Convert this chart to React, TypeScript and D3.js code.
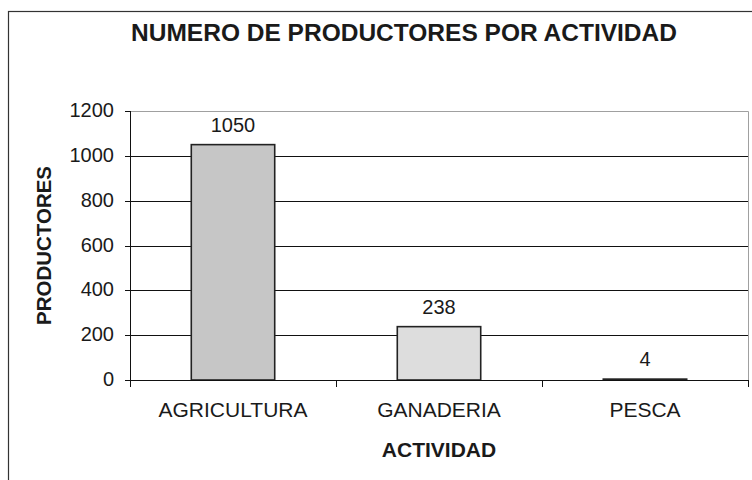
import * as d3 from "d3";
import { useEffect, useRef } from "react";

const categories = ["AGRICULTURA", "GANADERIA", "PESCA"];
const values = [1050, 238, 4];
const barColors = ["#c6c6c6", "#dddddd", "#555555"];
const yTicks = [0, 200, 400, 600, 800, 1000, 1200];

const title = "NUMERO DE PRODUCTORES POR ACTIVIDAD";
const xTitle = "ACTIVIDAD";
const yTitle = "PRODUCTORES";

const App = () => {
  const svgRef = useRef<SVGSVGElement>(null);
  const width = 752;
  const height = 480;

  useEffect(() => {
    const margin = { top: 111, left: 130, right: 4, bottom: 100 };
    const font = "'Liberation Sans', Arial, sans-serif";
    const svg = d3.select(svgRef.current).attr("width", width).attr("height", height);
    svg.selectAll("*").remove();

    svg.append("rect").attr("width", width).attr("height", height).attr("fill", "#ffffff");

    // outer chart frame (runs off the right/bottom edges)
    svg
      .append("rect")
      .attr("x", 8.5)
      .attr("y", 11.5)
      .attr("width", 800)
      .attr("height", 600)
      .attr("fill", "none")
      .attr("stroke", "#333")
      .attr("stroke-width", 1.2);

    const x = d3
      .scaleBand()
      .domain(categories)
      .range([margin.left, width - margin.right])
      .padding(0);

    const y = d3
      .scaleLinear()
      .domain([0, 1200])
      .range([height - margin.bottom, margin.top]);

    // gridlines
    svg
      .selectAll("grid")
      .data(yTicks.filter((t) => t > 0 && t < 1200))
      .join("line")
      .attr("x1", margin.left)
      .attr("x2", width - margin.right)
      .attr("y1", (d) => Math.round(y(d)) + 0.5)
      .attr("y2", (d) => Math.round(y(d)) + 0.5)
      .attr("stroke", "#111")
      .attr("stroke-width", 1);

    // plot border top & right
    svg
      .append("path")
      .attr(
        "d",
        `M${margin.left},${Math.round(y(1200)) + 0.5}H${width - margin.right + 0.5}V${y(0)}`
      )
      .attr("fill", "none")
      .attr("stroke", "#a0a0a0")
      .attr("stroke-width", 1);

    // bars
    const barW = x.bandwidth() * 0.405;
    svg
      .selectAll("bar")
      .data(values)
      .join("rect")
      .attr("x", (d, i) => (x(categories[i]) as number) + (x.bandwidth() - barW) / 2)
      .attr("y", (d) => y(d))
      .attr("width", barW)
      .attr("height", (d) => y(0) - y(d))
      .attr("fill", (d, i) => barColors[i])
      .attr("stroke", "#222")
      .attr("stroke-width", 1.6);

    // axes lines
    svg
      .append("line")
      .attr("x1", margin.left + 0.5)
      .attr("x2", margin.left + 0.5)
      .attr("y1", y(1200))
      .attr("y2", y(0) + 1)
      .attr("stroke", "#111");
    svg
      .append("line")
      .attr("x1", margin.left - 5)
      .attr("x2", width - margin.right + 1)
      .attr("y1", Math.round(y(0)) + 0.5)
      .attr("y2", Math.round(y(0)) + 0.5)
      .attr("stroke", "#111");

    // y ticks
    svg
      .selectAll("ytick")
      .data(yTicks)
      .join("line")
      .attr("x1", margin.left - 5)
      .attr("x2", margin.left)
      .attr("y1", (d) => Math.round(y(d)) + 0.5)
      .attr("y2", (d) => Math.round(y(d)) + 0.5)
      .attr("stroke", "#111");

    // x ticks at category boundaries
    const boundaries = categories.map((c) => x(c) as number).concat([width - margin.right]);
    svg
      .selectAll("xtick")
      .data(boundaries)
      .join("line")
      .attr("x1", (d) => Math.round(d) + 0.5)
      .attr("x2", (d) => Math.round(d) + 0.5)
      .attr("y1", y(0))
      .attr("y2", y(0) + 7)
      .attr("stroke", "#111");

    // y tick labels
    svg
      .selectAll("ylabel")
      .data(yTicks)
      .join("text")
      .attr("x", 114)
      .attr("y", (d) => y(d))
      .attr("dy", "0.3em")
      .attr("text-anchor", "end")
      .attr("font-family", font)
      .attr("font-size", 20)
      .attr("fill", "#1a1a1a")
      .text((d) => d);

    // category labels
    svg
      .selectAll("xlabel")
      .data(categories)
      .join("text")
      .attr("x", (d) => (x(d) as number) + x.bandwidth() / 2)
      .attr("y", 417)
      .attr("text-anchor", "middle")
      .attr("font-family", font)
      .attr("font-size", 21)
      .attr("fill", "#1a1a1a")
      .text((d) => d);

    // value labels
    svg
      .selectAll("vlabel")
      .data(values)
      .join("text")
      .attr("x", (d, i) => (x(categories[i]) as number) + x.bandwidth() / 2)
      .attr("y", (d) => y(d) - 13)
      .attr("text-anchor", "middle")
      .attr("font-family", font)
      .attr("font-size", 20)
      .attr("fill", "#1a1a1a")
      .text((d) => d);

    // titles
    svg
      .append("text")
      .attr("x", 404)
      .attr("y", 41)
      .attr("text-anchor", "middle")
      .attr("font-family", font)
      .attr("font-size", 24.5)
      .attr("font-weight", "bold")
      .attr("fill", "#1a1a1a")
      .text(title);

    svg
      .append("text")
      .attr("x", (margin.left + width - margin.right) / 2)
      .attr("y", 457)
      .attr("text-anchor", "middle")
      .attr("font-family", font)
      .attr("font-size", 21)
      .attr("font-weight", "bold")
      .attr("fill", "#1a1a1a")
      .text(xTitle);

    svg
      .append("text")
      .attr("transform", `translate(51,${(y(0) + y(1200)) / 2}) rotate(-90)`)
      .attr("text-anchor", "middle")
      .attr("font-family", font)
      .attr("font-size", 20.5)
      .attr("font-weight", "bold")
      .attr("fill", "#1a1a1a")
      .text(yTitle);
  }, []);

  return (
    <svg
      ref={svgRef}
      style={{ position: "absolute", left: 0, top: 0, display: "block" }}
    ></svg>
  );
};

export default App;
